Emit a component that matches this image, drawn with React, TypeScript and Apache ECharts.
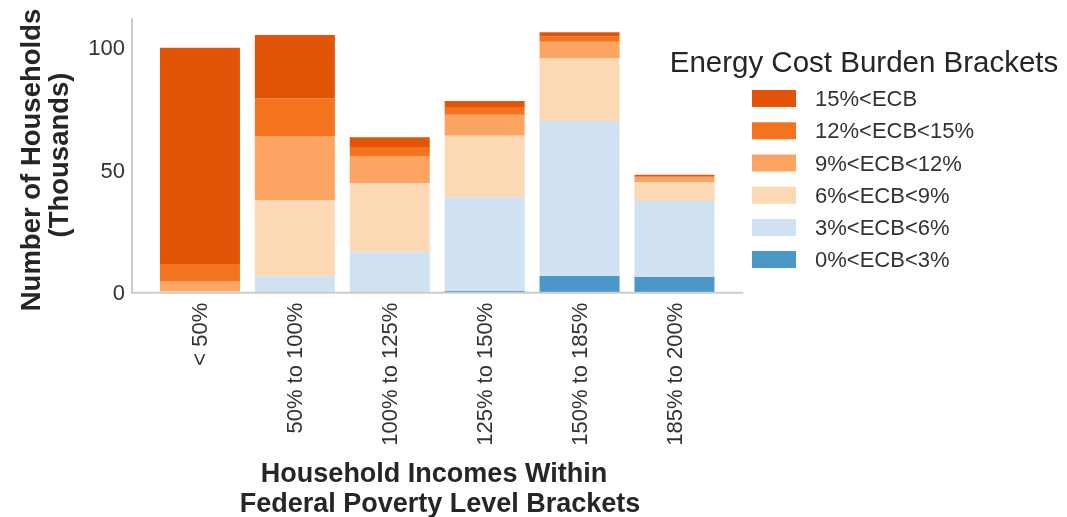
import React, { useEffect, useRef } from "react";
import * as echarts from "echarts";

const categories = ["< 50%", "50% to 100%", "100% to 125%", "125% to 150%", "150% to 185%", "185% to 200%"];
const seriesNames = ["0%<ECB<3%", "3%<ECB<6%", "6%<ECB<9%", "9%<ECB<12%", "12%<ECB<15%", "15%<ECB"];
const ecb0to3 = [0, 0, 0, 0.8, 6.9, 6.5];
const ecb3to6 = [0.2, 6.9, 16.7, 38.1, 63.1, 30.9];
const ecb6to9 = [0.5, 30.9, 28.0, 25.2, 25.5, 7.7];
const ecb9to12 = [4.1, 26.1, 11.0, 8.4, 6.8, 1.8];
const ecb12to15 = [6.9, 15.2, 3.7, 3.2, 2.2, 0.5];
const ecb15plus = [88.1, 25.9, 3.9, 2.4, 1.6, 0.7];
const yTicks = [0, 50, 100];

const seriesValues = [ecb0to3, ecb3to6, ecb6to9, ecb9to12, ecb12to15, ecb15plus];
const colors = ["#4a97c8", "#d0e1f1", "#fdd8b5", "#fca461", "#f3731f", "#e25508"];

const FONT = '"Liberation Sans", Arial, sans-serif';
const TXT = "#262626";

export default function App() {
  const ref = useRef<HTMLDivElement>(null);
  useEffect(() => {
    if (!ref.current) return;
    const chart = echarts.init(ref.current, null, { renderer: "svg" });
    const baseY = 292.7;
    const option: any = {
      animation: false,
      textStyle: { fontFamily: FONT },
      grid: { left: 152.5, right: 345.1, top: 19.1, bottom: 517 - baseY },
      xAxis: {
        type: "category",
        data: categories,
        axisLine: { show: false },
        axisTick: { show: false },
        axisLabel: { rotate: 90, fontSize: 22, color: "#333", margin: 10, fontFamily: FONT, interval: 0 },
      },
      yAxis: {
        type: "value",
        min: 0,
        max: 111.5,
        interval: 50,
        splitLine: { show: false },
        axisLine: { show: false },
        axisTick: { show: false },
        axisLabel: {
          fontSize: 22,
          color: "#333",
          margin: 27.5,
          fontFamily: FONT,
          showMaxLabel: false,
          formatter: (v: number) => (yTicks.includes(v) ? String(v) : ""),
        },
      },
      legend: {
        orient: "vertical",
        left: 747,
        top: 82.6,
        itemWidth: 44,
        itemHeight: 17,
        itemGap: 10.2,
        icon: "rect",
        data: seriesNames.slice().reverse(),
        textStyle: { fontSize: 22, color: "#333", fontFamily: FONT, padding: [0, 0, 0, 14] },
      },
      series: seriesNames.map((name, i) => ({
        name,
        type: "bar",
        stack: "total",
        barWidth: 80,
        data: seriesValues[i],
        itemStyle: { color: colors[i] },
      })),
      graphic: [
        { type: "line", shape: { x1: 132, y1: 18.3, x2: 132, y2: baseY }, style: { stroke: "#cccccc", lineWidth: 2 }, z: 10 },
        { type: "line", shape: { x1: 131, y1: baseY, x2: 743.3, y2: baseY }, style: { stroke: "#cccccc", lineWidth: 2 }, z: 10 },
        {
          type: "text", x: 864, y: 61.7,
          style: { text: "Energy Cost Burden Brackets", fontSize: 29.5, fill: TXT, fontFamily: FONT, align: "center", verticalAlign: "middle" },
        },
        {
          type: "text", x: 434, y: 473,
          style: { text: "Household Incomes Within", fontSize: 27, fontWeight: "bold", fill: TXT, fontFamily: FONT, align: "center", verticalAlign: "middle" },
        },
        {
          type: "text", x: 440, y: 503,
          style: { text: "Federal Poverty Level Brackets", fontSize: 27, fontWeight: "bold", fill: TXT, fontFamily: FONT, align: "center", verticalAlign: "middle" },
        },
        {
          type: "text", x: 30, y: 160, rotation: Math.PI / 2,
          style: { text: "Number of Households", fontSize: 27.5, fontWeight: "bold", fill: TXT, fontFamily: FONT, align: "center", verticalAlign: "middle" },
        },
        {
          type: "text", x: 58, y: 155, rotation: Math.PI / 2,
          style: { text: "(Thousands)", fontSize: 27.5, fontWeight: "bold", fill: TXT, fontFamily: FONT, align: "center", verticalAlign: "middle" },
        },
      ],
    };
    chart.setOption(option);
    return () => chart.dispose();
  }, []);
  return <div ref={ref} style={{ position: "fixed", left: 0, top: 0, width: 1067, height: 517 }} />;
}
